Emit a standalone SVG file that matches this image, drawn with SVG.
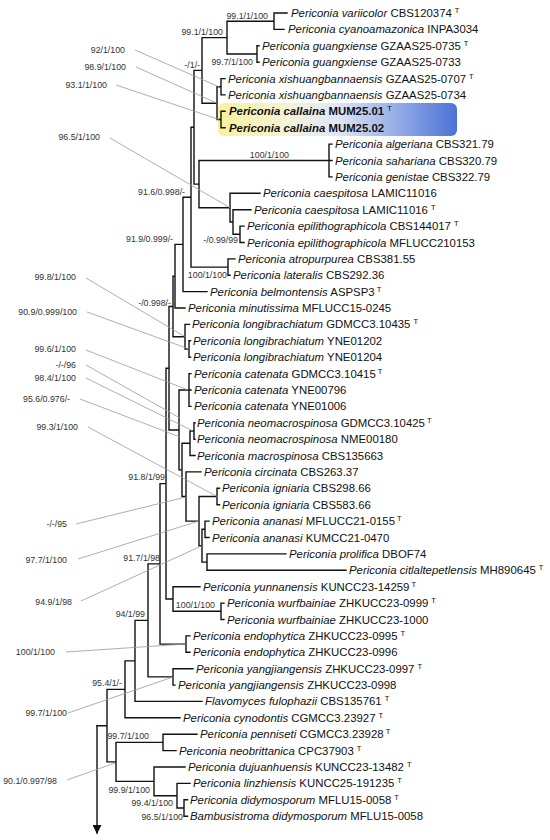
<svg xmlns="http://www.w3.org/2000/svg" width="550" height="840" viewBox="0 0 550 840">
<defs>
<linearGradient id="hl" x1="0" y1="0" x2="1" y2="0">
<stop offset="0" stop-color="#f8f19c"/>
<stop offset="0.3" stop-color="#f4f4da"/>
<stop offset="0.5" stop-color="#dfe6f6"/>
<stop offset="1" stop-color="#4a73d6"/>
</linearGradient>
<marker id="arr" viewBox="0 0 10 10" refX="9" refY="5" markerWidth="9" markerHeight="9" markerUnits="userSpaceOnUse" orient="auto">
<path d="M0,0 L10,5 L0,10 Z" fill="#111"/>
</marker>
<style>
.tx{font-family:"Liberation Sans",Arial,sans-serif;font-size:11.4px;fill:#111}
.i{font-style:italic}
.b{font-weight:bold}
.sup{font-size:7.5px}
.sl{font-family:"Liberation Sans",Arial,sans-serif;font-size:8.8px;fill:#333;text-anchor:end}
.br{stroke:#111;stroke-width:1.4;fill:none;stroke-linecap:square}
.ld{stroke:#9a9a9a;stroke-width:0.8;fill:none}
</style>
</defs>
<rect width="550" height="840" fill="#ffffff"/>
<rect id="highlight" x="218" y="103" width="239" height="33" rx="6" fill="url(#hl)"/>

<g id="connectors">
<path class="br" d="M274,13V29.4M274,13H287M274,29.4H284
M257,45.8V62.2M257,45.8H259M257,62.2H259
M227,21.2V54M227,21.2H274M227,54H257
M221,78.6V94.9M221,78.6H225M221,94.9H225
M221,111.3V127.7M221,111.3H225M221,127.7H225
M217,86.8V119.5M217,86.8H221M217,119.5H221
M202,37.6V103.2M202,37.6H227M202,103.2H217
M329,144.1V176.9M329,144.1H332M329,160.5H332M329,176.9H332
M240,226.1V242.5M240,226.1H244M240,242.5H244
M233,209.7V234.3M233,209.7H251M233,234.3H240
M230,193.3V222M230,193.3H260M230,222H233
M199,160.5V207.7M199,160.5H329M199,207.7H230
M194,70.4V184.1M194,70.4H202M194,184.1H199
M228,258.9V275.2M228,258.9H235M228,275.2H230
M191,127.3V267.1M191,127.3H194M191,267.1H228
M183,197.2V291.6M183,197.2H191M183,291.6H207
M175,244.4V308M175,244.4H183M175,308H185
M189,340.8V357.2M189,340.8H190.5M189,357.2H190.5
M185,324.4V349M185,324.4H189.5M185,349H189
M173,276.2V336.7M173,276.2H175M173,336.7H185
M189,373.6V406.4M189,373.6H191M189,390H191M189,406.4H191
M194,422.8V439.2M194,422.8H195M194,439.2H195
M190,431V455.5M190,431H194M190,455.5H195
M217,488.3V504.7M217,488.3H219.5M217,504.7H219.5
M205,521.1V537.5M205,521.1H209M205,537.5H209
M207,553.9V570.3M207,553.9H286M207,570.3H346
M202,529.3V562.1M202,529.3H205M202,562.1H207
M199,496.5V545.7M199,496.5H217M199,545.7H202
M186,471.9V521.1M186,471.9H201M186,521.1H199
M182,443.3V496.5M182,443.3H190M182,496.5H186
M179,390V469.9M179,390H189M179,469.9H182
M169,306.5V430M169,306.5H173M169,430H179
M221,603.1V619.5M221,603.1H224M221,619.5H224
M173,586.7V611.3M173,586.7H200M173,611.3H221
M166,368.2V599M166,368.2H169M166,599H173
M186,635.9V652.3M186,635.9H190M186,652.3H190
M160,483.6V644.1M160,483.6H166M160,644.1H186
M173,668.7V685.1M173,668.7H193M173,685.1H175
M148,563.9V676.9M148,563.9H160M148,676.9H173
M135,620.4V701.4M135,620.4H148M135,701.4H202
M125,660.9V717.8M125,660.9H135M125,717.8H180
M184,799.8V816.2M184,799.8H187.5M184,816.2H187.5
M177,783.4V808M177,783.4H190M177,808H184
M154,767V795.7M154,767H185M154,795.7H177
M163,734.2V750.6M163,734.2H197M163,750.6H176
M116,742.4V781.4M116,742.4H163M116,781.4H154
M107,689.4V761.9M107,689.4H125M107,761.9H116
M97,725.7H107"/>
<path class="br" d="M97,725.7V833" marker-end="url(#arr)"/>
</g>

<g id="leaders">
<path class="ld" d="M135,50L219,86.8M136,67L217,103.2M116,85L219,119.5M110,138L230,207.7
M86,278L185,336.7M87,312L189,349M86,350L188,390M86,365L180,418M86,378L193,431M80,399L180,437
M88,427L217,496.5M76,524L186,497M78,559L199,521M81,601L202,545.7M66,652L186,644M68,713L173,677M67,780L115,763"/>
</g>

<g id="support">
<text class="sl" x="268" y="19">99.1/1/100</text>
<text class="sl" x="223" y="35">99.1/1/100</text>
<text class="sl" x="125" y="53">92/1/100</text>
<text class="sl" x="126" y="70">98.9/1/100</text>
<text class="sl" x="200" y="67.5">-/1/-</text>
<text class="sl" x="253" y="65">99.7/1/100</text>
<text class="sl" x="107" y="88">93.1/1/100</text>
<text class="sl" x="100" y="140">96.5/1/100</text>
<text class="sl" x="289" y="158">100/1/100</text>
<text class="sl" x="185" y="195">91.6/0.998/-</text>
<text class="sl" x="238" y="243">-/0.99/99</text>
<text class="sl" x="173" y="242">91.9/0.999/-</text>
<text class="sl" x="227" y="278">100/1/100</text>
<text class="sl" x="76" y="280">99.8/1/100</text>
<text class="sl" x="171" y="306">-/0.998/-</text>
<text class="sl" x="77" y="315">90.9/0.999/100</text>
<text class="sl" x="76" y="352">99.6/1/100</text>
<text class="sl" x="76" y="368">-/-/96</text>
<text class="sl" x="76" y="381">98.4/1/100</text>
<text class="sl" x="70" y="402">95.6/0.976/-</text>
<text class="sl" x="78" y="430">99.3/1/100</text>
<text class="sl" x="165" y="480">91.8/1/99</text>
<text class="sl" x="67" y="527">-/-/95</text>
<text class="sl" x="67" y="563">97.7/1/100</text>
<text class="sl" x="160" y="561">91.7/1/98</text>
<text class="sl" x="72" y="605">94.9/1/98</text>
<text class="sl" x="215" y="608">100/1/100</text>
<text class="sl" x="145" y="617">94/1/99</text>
<text class="sl" x="55" y="655">100/1/100</text>
<text class="sl" x="122" y="686">95.4/1/-</text>
<text class="sl" x="67" y="716">99.7/1/100</text>
<text class="sl" x="149" y="739">99.7/1/100</text>
<text class="sl" x="57" y="784">90.1/0.997/98</text>
<text class="sl" x="150" y="793">99.9/1/100</text>
<text class="sl" x="173" y="806">99.4/1/100</text>
<text class="sl" x="183" y="820">96.5/1/100</text>
</g>

<g id="t01"><text class="tx" x="291" y="17"><tspan class="i">Periconia variicolor</tspan> CBS120374<tspan class="sup" dx="3" dy="-4">T</tspan></text></g>
<g id="t02"><text class="tx" x="288" y="33.4"><tspan class="i">Periconia cyanoamazonica</tspan> INPA3034</text></g>
<g id="t03"><text class="tx" x="262" y="49.8"><tspan class="i">Periconia guangxiense</tspan> GZAAS25-0735<tspan class="sup" dx="3" dy="-4">T</tspan></text></g>
<g id="t04"><text class="tx" x="262" y="66.2"><tspan class="i">Periconia guangxiense</tspan> GZAAS25-0733</text></g>
<g id="t05"><text class="tx" x="228" y="82.6"><tspan class="i">Periconia xishuangbannaensis</tspan> GZAAS25-0707<tspan class="sup" dx="3" dy="-4">T</tspan></text></g>
<g id="t06"><text class="tx" x="228" y="98.9"><tspan class="i">Periconia xishuangbannaensis</tspan> GZAAS25-0734</text></g>
<g id="t07"><text class="tx b" x="229" y="115.3"><tspan class="i">Periconia callaina</tspan> MUM25.01<tspan class="sup" dx="3" dy="-4" font-weight="normal">T</tspan></text></g>
<g id="t08"><text class="tx b" x="229" y="131.7"><tspan class="i">Periconia callaina</tspan> MUM25.02</text></g>
<g id="t09"><text class="tx" x="335" y="148.1"><tspan class="i">Periconia algeriana</tspan> CBS321.79</text></g>
<g id="t10"><text class="tx" x="335" y="164.5"><tspan class="i">Periconia sahariana</tspan> CBS320.79</text></g>
<g id="t11"><text class="tx" x="335" y="180.9"><tspan class="i">Periconia genistae</tspan> CBS322.79</text></g>
<g id="t12"><text class="tx" x="263" y="197.3"><tspan class="i">Periconia caespitosa</tspan> LAMIC11016</text></g>
<g id="t13"><text class="tx" x="254" y="213.7"><tspan class="i">Periconia caespitosa</tspan> LAMIC11016<tspan class="sup" dx="3" dy="-4">T</tspan></text></g>
<g id="t14"><text class="tx" x="247" y="230.1"><tspan class="i">Periconia epilithographicola</tspan> CBS144017<tspan class="sup" dx="3" dy="-4">T</tspan></text></g>
<g id="t15"><text class="tx" x="247" y="246.5"><tspan class="i">Periconia epilithographicola</tspan> MFLUCC210153</text></g>
<g id="t16"><text class="tx" x="238" y="262.9"><tspan class="i">Periconia atropurpurea</tspan> CBS381.55</text></g>
<g id="t17"><text class="tx" x="233" y="279.2"><tspan class="i">Periconia lateralis</tspan> CBS292.36</text></g>
<g id="t18"><text class="tx" x="210" y="295.6"><tspan class="i">Periconia belmontensis</tspan> ASPSP3<tspan class="sup" dx="2" dy="-4">T</tspan></text></g>
<g id="t19"><text class="tx" x="188" y="312"><tspan class="i">Periconia minutissima</tspan> MFLUCC15-0245</text></g>
<g id="t20"><text class="tx" x="192" y="328.4"><tspan class="i">Periconia longibrachiatum</tspan> GDMCC3.10435<tspan class="sup" dx="3" dy="-4">T</tspan></text></g>
<g id="t21"><text class="tx" x="193" y="344.8"><tspan class="i">Periconia longibrachiatum</tspan> YNE01202</text></g>
<g id="t22"><text class="tx" x="193" y="361.2"><tspan class="i">Periconia longibrachiatum</tspan> YNE01204</text></g>
<g id="t23"><text class="tx" x="194" y="377.6"><tspan class="i">Periconia catenata</tspan> GDMCC3.10415<tspan class="sup" dx="2" dy="-4">T</tspan></text></g>
<g id="t24"><text class="tx" x="194" y="394"><tspan class="i">Periconia catenata</tspan> YNE00796</text></g>
<g id="t25"><text class="tx" x="194" y="410.4"><tspan class="i">Periconia catenata</tspan> YNE01006</text></g>
<g id="t26"><text class="tx" x="197" y="426.8"><tspan class="i">Periconia neomacrospinosa</tspan> GDMCC3.10425<tspan class="sup" dx="2" dy="-4">T</tspan></text></g>
<g id="t27"><text class="tx" x="197" y="443.2"><tspan class="i">Periconia neomacrospinosa</tspan> NME00180</text></g>
<g id="t28"><text class="tx" x="197" y="459.5"><tspan class="i">Periconia macrospinosa</tspan> CBS135663</text></g>
<g id="t29"><text class="tx" x="204" y="475.9"><tspan class="i">Periconia circinata</tspan> CBS263.37</text></g>
<g id="t30"><text class="tx" x="222" y="492.3"><tspan class="i">Periconia igniaria</tspan> CBS298.66</text></g>
<g id="t31"><text class="tx" x="222" y="508.7"><tspan class="i">Periconia igniaria</tspan> CBS583.66</text></g>
<g id="t32"><text class="tx" x="212" y="525.1"><tspan class="i">Periconia ananasi</tspan> MFLUCC21-0155<tspan class="sup" dx="2" dy="-4">T</tspan></text></g>
<g id="t33"><text class="tx" x="212" y="541.5"><tspan class="i">Periconia ananasi</tspan> KUMCC21-0470</text></g>
<g id="t34"><text class="tx" x="289" y="557.9"><tspan class="i">Periconia prolifica</tspan> DBOF74</text></g>
<g id="t35"><text class="tx" x="349" y="574.3"><tspan class="i">Periconia citlaltepetlensis</tspan> MH890645<tspan class="sup" dx="3" dy="-4">T</tspan></text></g>
<g id="t36"><text class="tx" x="203" y="590.7"><tspan class="i">Periconia yunnanensis</tspan> KUNCC23-14259<tspan class="sup" dx="2" dy="-4">T</tspan></text></g>
<g id="t37"><text class="tx" x="227" y="607.1"><tspan class="i">Periconia wurfbainiae</tspan> ZHKUCC23-0999<tspan class="sup" dx="3" dy="-4">T</tspan></text></g>
<g id="t38"><text class="tx" x="227" y="623.5"><tspan class="i">Periconia wurfbainiae</tspan> ZHKUCC23-1000</text></g>
<g id="t39"><text class="tx" x="193" y="639.9"><tspan class="i">Periconia endophytica</tspan> ZHKUCC23-0995<tspan class="sup" dx="3" dy="-4">T</tspan></text></g>
<g id="t40"><text class="tx" x="193" y="656.3"><tspan class="i">Periconia endophytica</tspan> ZHKUCC23-0996</text></g>
<g id="t41"><text class="tx" x="196" y="672.7"><tspan class="i">Periconia yangjiangensis</tspan> ZHKUCC23-0997<tspan class="sup" dx="3" dy="-4">T</tspan></text></g>
<g id="t42"><text class="tx" x="178" y="689.1"><tspan class="i">Periconia yangjiangensis</tspan> ZHKUCC23-0998</text></g>
<g id="t43"><text class="tx" x="205" y="705.4"><tspan class="i">Flavomyces fulophazii</tspan> CBS135761<tspan class="sup" dx="3" dy="-4">T</tspan></text></g>
<g id="t44"><text class="tx" x="183" y="721.8"><tspan class="i">Periconia cynodontis</tspan> CGMCC3.23927<tspan class="sup" dx="3" dy="-4">T</tspan></text></g>
<g id="t45"><text class="tx" x="200" y="738.2"><tspan class="i">Periconia penniseti</tspan> CGMCC3.23928<tspan class="sup" dx="2" dy="-4">T</tspan></text></g>
<g id="t46"><text class="tx" x="179" y="754.6"><tspan class="i">Periconia neobrittanica</tspan> CPC37903<tspan class="sup" dx="3" dy="-4">T</tspan></text></g>
<g id="t47"><text class="tx" x="188" y="771"><tspan class="i">Periconia dujuanhuensis</tspan> KUNCC23-13482<tspan class="sup" dx="3" dy="-4">T</tspan></text></g>
<g id="t48"><text class="tx" x="193" y="787.4"><tspan class="i">Periconia linzhiensis</tspan> KUNCC25-191235<tspan class="sup" dx="3" dy="-4">T</tspan></text></g>
<g id="t49"><text class="tx" x="190" y="803.8"><tspan class="i">Periconia didymosporum</tspan> MFLU15-0058<tspan class="sup" dx="3" dy="-4">T</tspan></text></g>
<g id="t50"><text class="tx" x="190" y="820.2"><tspan class="i">Bambusistroma didymosporum</tspan> MFLU15-0058</text></g>
</svg>
